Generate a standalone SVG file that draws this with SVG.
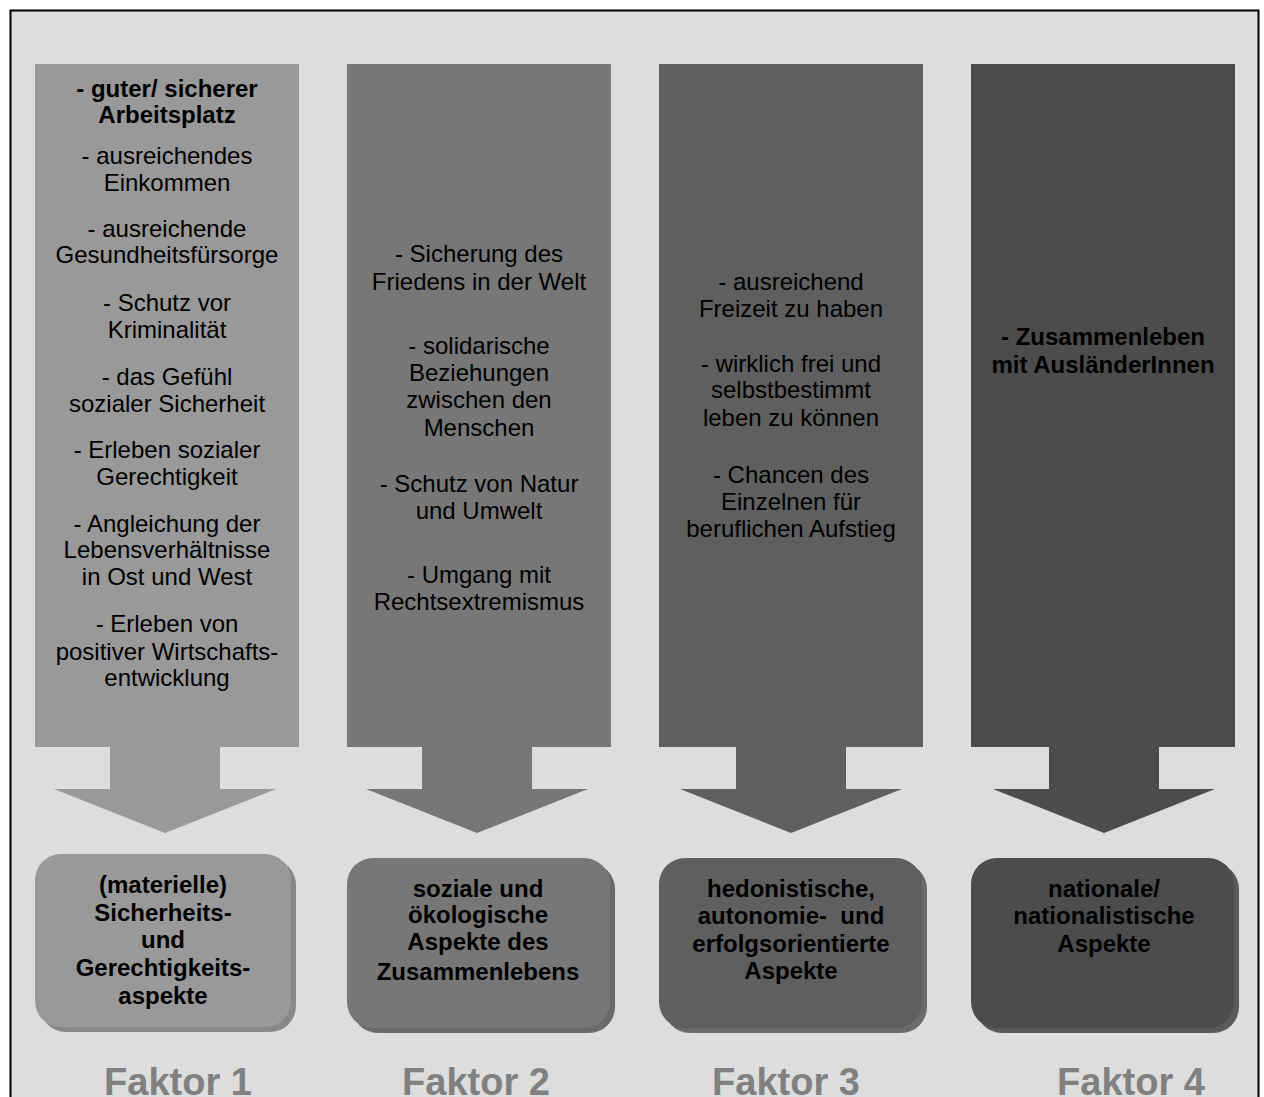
<svg xmlns="http://www.w3.org/2000/svg" width="1264" height="1097" viewBox="0 0 1264 1097">
  <style>
    .item { font-family: "Liberation Sans", Arial, sans-serif; font-size: 24px; fill: #000; text-anchor: middle; }
    .bold { font-weight: bold; }
    .factor { font-family: "Liberation Sans", Arial, sans-serif; font-size: 38px; font-weight: bold; fill: #808080; text-anchor: middle; }
    .c1 { fill: #999999; }
    .c2 { fill: #777777; }
    .c3 { fill: #5f5f5f; }
    .c4 { fill: #4c4c4c; }
    .s1 { fill: #888888; }
    .s2 { fill: #6a6a6a; }
    .s3 { fill: #6b6b6b; }
    .s4 { fill: #5a5a5a; }
  </style>

  <!-- frame -->
  <rect x="0" y="0" width="1264" height="1097" fill="#ffffff"/>
  <rect x="10.5" y="10.5" width="1248" height="1100" fill="#dddddd" stroke="#000000" stroke-width="2"/>

  <!-- down arrows from each column to its factor box -->
  <g id="connectors">
    <path class="c1" d="M110,746 H220 V789 H276 L165,833 L54,789 H110 Z"/>
    <path class="c2" d="M422,746 H532 V789 H588 L477,833 L366,789 H422 Z"/>
    <path class="c3" d="M736,746 H846 V789 H902 L791,833 L680,789 H736 Z"/>
    <path class="c4" d="M1049,746 H1159 V789 H1215 L1104,833 L993,789 H1049 Z"/>
  </g>

  <!-- column 1 -->
  <g id="column1">
    <rect class="c1" x="35" y="64" width="264" height="683"/>
    <text class="item bold" x="167" y="97">- guter/ sicherer</text>
    <text class="item bold" x="167" y="123">Arbeitsplatz</text>
    <text class="item" x="167" y="164">- ausreichendes</text>
    <text class="item" x="167" y="191">Einkommen</text>
    <text class="item" x="167" y="237">- ausreichende</text>
    <text class="item" x="167" y="263">Gesundheitsfürsorge</text>
    <text class="item" x="167" y="311">- Schutz vor</text>
    <text class="item" x="167" y="338">Kriminalität</text>
    <text class="item" x="167" y="385">- das Gefühl</text>
    <text class="item" x="167" y="412">sozialer Sicherheit</text>
    <text class="item" x="167" y="458">- Erleben sozialer</text>
    <text class="item" x="167" y="485">Gerechtigkeit</text>
    <text class="item" x="167" y="532">- Angleichung der</text>
    <text class="item" x="167" y="558">Lebensverhältnisse</text>
    <text class="item" x="167" y="585">in Ost und West</text>
    <text class="item" x="167" y="632">- Erleben von</text>
    <text class="item" x="167" y="660">positiver Wirtschafts-</text>
    <text class="item" x="167" y="686">entwicklung</text>
  </g>

  <!-- column 2 -->
  <g id="column2">
    <rect class="c2" x="347" y="64" width="264" height="683"/>
    <text class="item" x="479" y="262">- Sicherung des</text>
    <text class="item" x="479" y="290">Friedens in der Welt</text>
    <text class="item" x="479" y="354">- solidarische</text>
    <text class="item" x="479" y="381">Beziehungen</text>
    <text class="item" x="479" y="408">zwischen den</text>
    <text class="item" x="479" y="436">Menschen</text>
    <text class="item" x="479" y="492">- Schutz von Natur</text>
    <text class="item" x="479" y="519">und Umwelt</text>
    <text class="item" x="479" y="583">- Umgang mit</text>
    <text class="item" x="479" y="610">Rechtsextremismus</text>
  </g>

  <!-- column 3 -->
  <g id="column3">
    <rect class="c3" x="659" y="64" width="264" height="683"/>
    <text class="item" x="791" y="290">- ausreichend</text>
    <text class="item" x="791" y="317">Freizeit zu haben</text>
    <text class="item" x="791" y="372">- wirklich frei und</text>
    <text class="item" x="791" y="398">selbstbestimmt</text>
    <text class="item" x="791" y="426">leben zu können</text>
    <text class="item" x="791" y="483">- Chancen des</text>
    <text class="item" x="791" y="510">Einzelnen für</text>
    <text class="item" x="791" y="537">beruflichen Aufstieg</text>
  </g>

  <!-- column 4 -->
  <g id="column4">
    <rect class="c4" x="971" y="64" width="264" height="683"/>
    <text class="item bold" x="1103" y="345">- Zusammenleben</text>
    <text class="item bold" x="1103" y="373">mit AusländerInnen</text>
  </g>

  <!-- factor boxes (rounded, with offset shadow) -->
  <g id="box1">
    <rect class="s1" x="40" y="859" width="256" height="173" rx="26"/>
    <rect class="c1" x="35" y="854" width="256" height="173" rx="26"/>
    <text class="item bold" x="163" y="893">(materielle)</text>
    <text class="item bold" x="163" y="921">Sicherheits-</text>
    <text class="item bold" x="163" y="948">und</text>
    <text class="item bold" x="163" y="976">Gerechtigkeits-</text>
    <text class="item bold" x="163" y="1004">aspekte</text>
  </g>
  <g id="box2">
    <rect class="s2" x="352" y="863" width="263" height="170" rx="26"/>
    <rect class="c2" x="347" y="858" width="263" height="170" rx="26"/>
    <text class="item bold" x="478" y="897">soziale und</text>
    <text class="item bold" x="478" y="923">ökologische</text>
    <text class="item bold" x="478" y="950">Aspekte des</text>
    <text class="item bold" x="478" y="980">Zusammenlebens</text>
  </g>
  <g id="box3">
    <rect class="s3" x="664" y="863" width="263" height="170" rx="26"/>
    <rect class="c3" x="659" y="858" width="263" height="170" rx="26"/>
    <text class="item bold" x="791" y="897">hedonistische,</text>
    <text class="item bold" x="791" y="924" xml:space="preserve">autonomie-  und</text>
    <text class="item bold" x="791" y="952">erfolgsorientierte</text>
    <text class="item bold" x="791" y="979">Aspekte</text>
  </g>
  <g id="box4">
    <rect class="s4" x="976" y="863" width="263" height="170" rx="26"/>
    <rect class="c4" x="971" y="858" width="263" height="170" rx="26"/>
    <text class="item bold" x="1104" y="897">nationale/</text>
    <text class="item bold" x="1104" y="924">nationalistische</text>
    <text class="item bold" x="1104" y="952">Aspekte</text>
  </g>

  <!-- factor captions -->
  <g id="captions">
    <text class="factor" x="178" y="1095">Faktor 1</text>
    <text class="factor" x="476" y="1095">Faktor 2</text>
    <text class="factor" x="786" y="1095">Faktor 3</text>
    <text class="factor" x="1131" y="1095">Faktor 4</text>
  </g>
</svg>
